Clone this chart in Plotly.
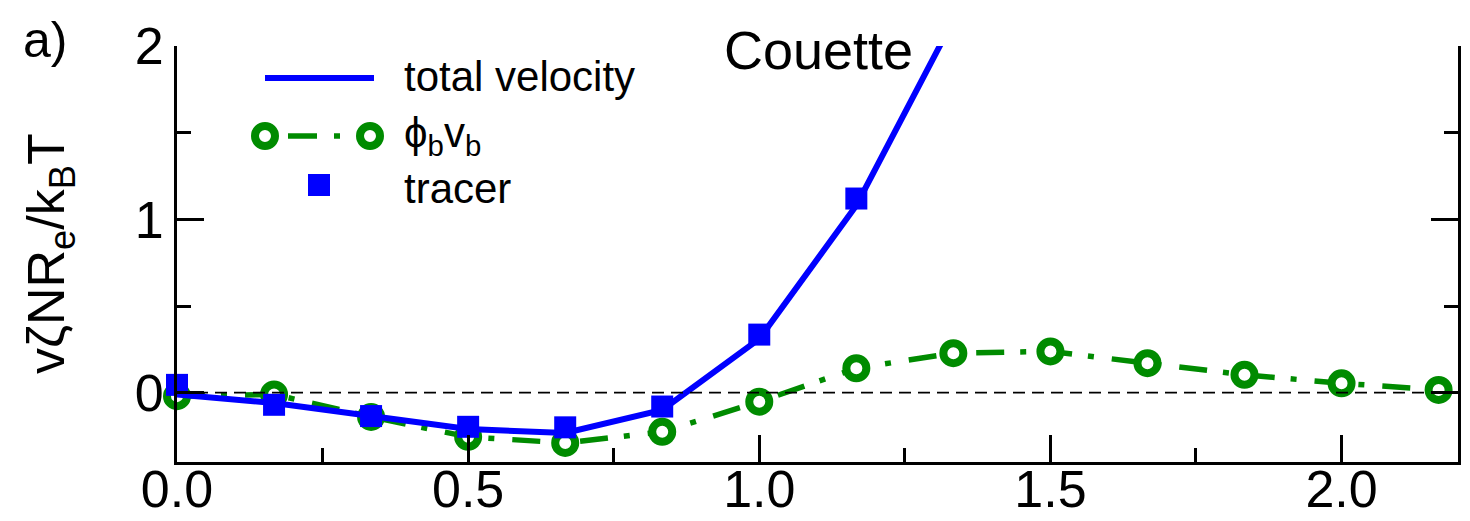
import plotly.graph_objects as go

# x positions of the sampled points (steps of 1/6)
x_pts = [0.0, 0.1667, 0.3333, 0.5, 0.6667, 0.8333, 1.0, 1.1667,
         1.3333, 1.5, 1.6667, 1.8333, 2.0, 2.1667]

# total velocity (solid blue curve)
total_x = x_pts[:9]
total_y = [-0.01, -0.06, -0.135, -0.21, -0.232, -0.10, 0.31, 1.08, 2.15]

# phi_b v_b (green dash-dot with open circles)
phib_x = x_pts
phib_y = [-0.02, -0.01, -0.14, -0.255, -0.29, -0.226, -0.052, 0.141,
          0.228, 0.238, 0.17, 0.103, 0.054, 0.016]

# tracer (blue squares)
tracer_x = x_pts[:8]
tracer_y = [0.045, -0.07, -0.135, -0.197, -0.20, -0.08, 0.335, 1.12]

x_ticks = [0.0, 0.5, 1.0, 1.5, 2.0]
x_ticklabels = ["0.0", "0.5", "1.0", "1.5", "2.0"]
y_ticks = [0, 1, 2]
y_ticklabels = ["0", "1", "2"]

BLUE = "#0000FF"
GREEN = "#008B00"
FONT = "Liberation Sans, Arial, Helvetica, sans-serif"
GREEN_DASH = "28px,16px,6px,18px"

W, H = 1470, 521
ML, MR, MT, MB = 177, 12, 46, 59
PW, PH = W - ML - MR, H - MT - MB


def px(xpix):
    return (xpix - ML) / PW


def py(ypix):
    return (H - MB - ypix) / PH


fig = go.Figure()

fig.add_trace(go.Scatter(
    x=phib_x, y=phib_y, mode="lines+markers", cliponaxis=False,
    line=dict(color=GREEN, width=5.5, dash=GREEN_DASH),
    marker=dict(symbol="circle", size=20, color="white",
                line=dict(color=GREEN, width=8)),
    showlegend=False,
))
fig.add_trace(go.Scatter(
    x=total_x, y=total_y, mode="lines",
    line=dict(color=BLUE, width=6),
    showlegend=False,
))
fig.add_trace(go.Scatter(
    x=tracer_x, y=tracer_y, mode="markers", cliponaxis=False,
    marker=dict(symbol="square", size=22, color=BLUE, line=dict(width=0)),
    showlegend=False,
))

shapes = [
    # zero reference line
    dict(type="line", xref="paper", x0=0, x1=1, yref="y", y0=0, y1=0,
         line=dict(color="black", width=1.6, dash="12px,7px"), layer="above"),
    # key: total velocity
    dict(type="line", xref="paper", yref="paper",
         x0=px(265), x1=px(374), y0=py(78), y1=py(78),
         line=dict(color=BLUE, width=6)),
    # key: phi_b v_b
    dict(type="line", xref="paper", yref="paper",
         x0=px(288), x1=px(317), y0=py(136), y1=py(136),
         line=dict(color=GREEN, width=5.5)),
    dict(type="line", xref="paper", yref="paper",
         x0=px(334), x1=px(340), y0=py(136), y1=py(136),
         line=dict(color=GREEN, width=5.5)),
    dict(type="circle", xref="paper", yref="paper",
         x0=px(255), x1=px(275), y0=py(146), y1=py(126),
         line=dict(color=GREEN, width=8)),
    dict(type="circle", xref="paper", yref="paper",
         x0=px(360), x1=px(380), y0=py(146), y1=py(126),
         line=dict(color=GREEN, width=8)),
    # key: tracer
    dict(type="rect", xref="paper", yref="paper",
         x0=px(308), x1=px(330), y0=py(196), y1=py(174),
         fillcolor=BLUE, line=dict(width=0)),
]

annotations = [
    dict(text="total velocity", xref="paper", yref="paper",
         x=px(402), y=py(77), xanchor="left", yanchor="middle",
         showarrow=False, font=dict(size=42, family=FONT, color="black")),
    dict(text="ϕ<sub>b</sub>v<sub>b</sub>", xref="paper", yref="paper",
         x=px(402), y=py(135), xanchor="left", yanchor="middle",
         showarrow=False, font=dict(size=42, family=FONT, color="black")),
    dict(text="tracer", xref="paper", yref="paper",
         x=px(402), y=py(188), xanchor="left", yanchor="middle",
         showarrow=False, font=dict(size=42, family=FONT, color="black")),
    dict(text="Couette", xref="paper", yref="paper",
         x=px(818), y=py(50), xanchor="center", yanchor="middle",
         showarrow=False, font=dict(size=54, family=FONT, color="black")),
    dict(text="a)", xref="paper", yref="paper",
         x=px(45), y=py(40), xanchor="center", yanchor="middle",
         showarrow=False, font=dict(size=50, family=FONT, color="black")),
    dict(text="vζNR<sub>e</sub>/k<sub>B</sub>T", xref="paper", yref="paper",
         x=px(50), y=py(254), xanchor="center", yanchor="middle",
         textangle=-90, showarrow=False,
         font=dict(size=52, family=FONT, color="black")),
]

fig.update_layout(
    width=W, height=H,
    margin=dict(l=ML, r=MR, t=MT, b=MB, pad=0, autoexpand=False),
    paper_bgcolor="white", plot_bgcolor="white",
    font=dict(family=FONT, color="black"),
    shapes=shapes, annotations=annotations,
    showlegend=False,
)

fig.update_xaxes(
    range=[0, 2.2], showgrid=False, zeroline=False, automargin=False,
    showline=True, linecolor="black", linewidth=3, mirror=False,
    ticks="inside", ticklen=27, tickwidth=3, tickcolor="black",
    tickvals=x_ticks, ticktext=x_ticklabels, ticklabelstandoff=-20,
    tickfont=dict(size=52, family=FONT, color="black"),
    minor=dict(dtick=0.25, tick0=0, ticks="inside", ticklen=14,
               tickwidth=3, tickcolor="black", showgrid=False),
)
fig.update_yaxes(
    range=[-0.4, 2.0], showgrid=False, zeroline=False, automargin=False,
    showline=True, linecolor="black", linewidth=3, mirror="ticks",
    ticks="inside", ticklen=27, tickwidth=3, tickcolor="black",
    tickvals=y_ticks, ticktext=y_ticklabels,
    tickfont=dict(size=52, family=FONT, color="black"),
    minor=dict(dtick=0.5, tick0=0, ticks="inside", ticklen=14,
               tickwidth=3, tickcolor="black", showgrid=False),
)

fig.write_html("out.html")
